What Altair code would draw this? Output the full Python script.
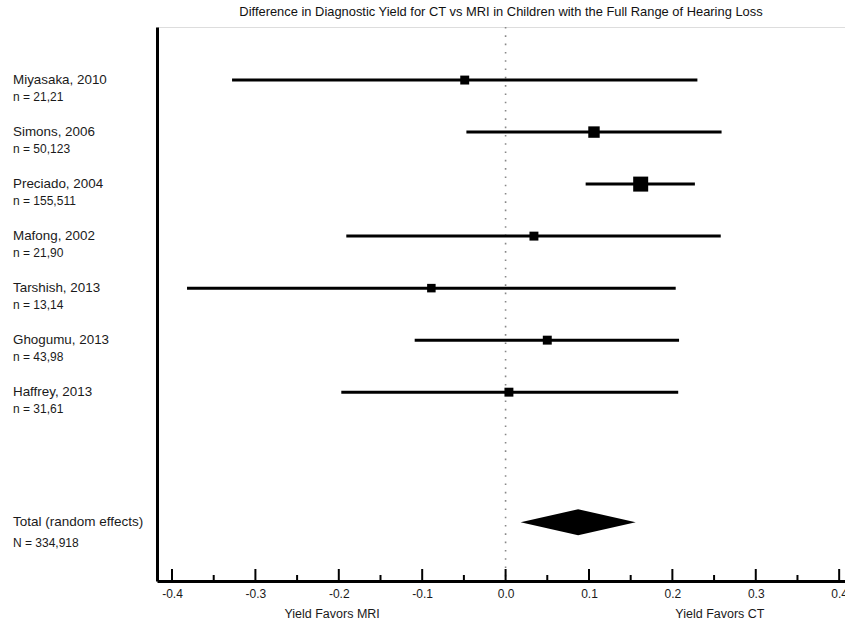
import altair as alt
import pandas as pd

# ---- data ----
studies = ["Miyasaka, 2010", "Simons, 2006", "Preciado, 2004", "Mafong, 2002",
           "Tarshish, 2013", "Ghogumu, 2013", "Haffrey, 2013"]
sample_sizes = ["n = 21,21", "n = 50,123", "n = 155,511", "n = 21,90",
                "n = 13,14", "n = 43,98", "n = 31,61"]
estimate = [-0.049, 0.106, 0.162, 0.034, -0.089, 0.050, 0.004]
ci_low = [-0.328, -0.047, 0.096, -0.191, -0.382, -0.109, -0.197]
ci_high = [0.230, 0.259, 0.227, 0.258, 0.204, 0.208, 0.207]
weight = [11, 18, 31, 11, 10, 11, 11]

total_label = "Total (random effects)"
total_n = "N = 334,918"
total_est = 0.087
total_low = 0.018
total_high = 0.156

major_ticks = [-0.4, -0.3, -0.2, -0.1, 0.0, 0.1, 0.2, 0.3, 0.4]
minor_ticks = [-0.35, -0.25, -0.15, -0.05, 0.05, 0.15, 0.25, 0.35]

title_text = "Difference in Diagnostic Yield for CT vs MRI in Children with the Full Range of Hearing Loss"
side_labels = ["Yield Favors MRI", "Yield Favors CT"]
side_label_pos = [-0.208, 0.257]

# ---- layout ----
W, H = 688, 554
FONT = "Liberation Sans"
TXT = "#1a1a1a"
TOTAL_ROW = 8.5

rows = list(range(len(studies)))
df = pd.DataFrame({"study": studies, "n": sample_sizes, "row": rows,
                   "est": estimate, "lo": ci_low, "hi": ci_high, "w": weight})
tot = pd.DataFrame({"label": [total_label], "n": [total_n], "row": [TOTAL_ROW]})
diamond = pd.DataFrame({
    "x": [total_low, total_est, total_high],
    "y": [TOTAL_ROW, TOTAL_ROW - 0.25, TOTAL_ROW],
    "y2": [TOTAL_ROW, TOTAL_ROW + 0.25, TOTAL_ROW],
})
maj = pd.DataFrame({"v": major_ticks})
mnr = pd.DataFrame({"v": minor_ticks})
sides = pd.DataFrame({"t": side_labels, "v": side_label_pos})

xscale = alt.Scale(domain=[-0.418, 0.407], nice=False, zero=False)
yscale = alt.Scale(domain=[-1.02, 9.63], reverse=True, nice=False, zero=False)

xaxis = alt.Axis(values=major_ticks,
                 labelExpr="datum.value < 0 ? '-' + format(-datum.value, '.1f') : format(datum.value, '.1f')",
                 ticks=False, grid=False,
                 domain=True, domainColor="black", domainWidth=3,
                 labelFont=FONT, labelFontSize=12, labelColor=TXT,
                 labelPadding=7, title=None)
yaxis = alt.Axis(labels=False, ticks=False, grid=False, domain=True,
                 domainColor="black", domainWidth=3, title=None)

base = alt.Chart(df)

zero_line = alt.Chart(pd.DataFrame({"v": [0.0]})).mark_rule(
    color="#888", strokeWidth=1.6, strokeDash=[1.6, 6.7]
).encode(x=alt.X("v:Q", scale=xscale, axis=xaxis),
         y=alt.value(0), y2=alt.value(H))

ci = base.mark_rule(color="black", strokeWidth=3).encode(
    x=alt.X("lo:Q", scale=xscale, axis=xaxis), x2="hi:Q",
    y=alt.Y("row:Q", scale=yscale, axis=yaxis))

squares = base.mark_square(color="black", opacity=1).encode(
    x=alt.X("est:Q", scale=xscale),
    y=alt.Y("row:Q", scale=yscale),
    size=alt.Size("w:Q", scale=alt.Scale(domain=[0, 31], range=[0, 225]), legend=None))

dia = alt.Chart(diamond).mark_area(color="black", opacity=1).encode(
    x=alt.X("x:Q", scale=xscale),
    y=alt.Y("y:Q", scale=yscale),
    y2="y2:Q")

maj_ticks = alt.Chart(maj).mark_rule(color="black", strokeWidth=2).encode(
    x=alt.X("v:Q", scale=xscale), y=alt.value(H), y2=alt.value(H - 12))
min_ticks = alt.Chart(mnr).mark_rule(color="black", strokeWidth=2).encode(
    x=alt.X("v:Q", scale=xscale), y=alt.value(H), y2=alt.value(H - 6))

names = base.mark_text(align="left", baseline="middle", font=FONT,
                       fontSize=13.4, color=TXT).encode(
    x=alt.value(-144), y=alt.Y("row:Q", scale=yscale), text="study:N")
ns = base.mark_text(align="left", baseline="middle", font=FONT, dy=17,
                    fontSize=12, color=TXT).encode(
    x=alt.value(-144), y=alt.Y("row:Q", scale=yscale), text="n:N")
tot_name = alt.Chart(tot).mark_text(align="left", baseline="middle", font=FONT,
                                    fontSize=13.5, color=TXT).encode(
    x=alt.value(-144), y=alt.Y("row:Q", scale=yscale), text="label:N")
tot_n = alt.Chart(tot).mark_text(align="left", baseline="middle", font=FONT, dy=21,
                                 fontSize=12, color=TXT).encode(
    x=alt.value(-144), y=alt.Y("row:Q", scale=yscale), text="n:N")

side_text = alt.Chart(sides).mark_text(align="center", baseline="middle", font=FONT,
                                       fontSize=12.5, color=TXT).encode(
    x=alt.X("v:Q", scale=xscale), y=alt.value(H + 33), text="t:N")

chart = alt.layer(
    zero_line, ci, squares, dia, maj_ticks, min_ticks,
    names, ns, tot_name, tot_n, side_text
).properties(
    width=W, height=H,
    title=alt.TitleParams(title_text, font=FONT, fontSize=12.9, fontWeight="normal",
                          color="#111", anchor="middle", offset=7),
    autosize=alt.AutoSizeParams(type="none"),
    padding={"left": 157, "top": 27, "right": 0, "bottom": 46},
).configure_view(stroke=None).configure(background="white")

chart.save("out.html", embed_options={"renderer": "svg", "actions": False})
